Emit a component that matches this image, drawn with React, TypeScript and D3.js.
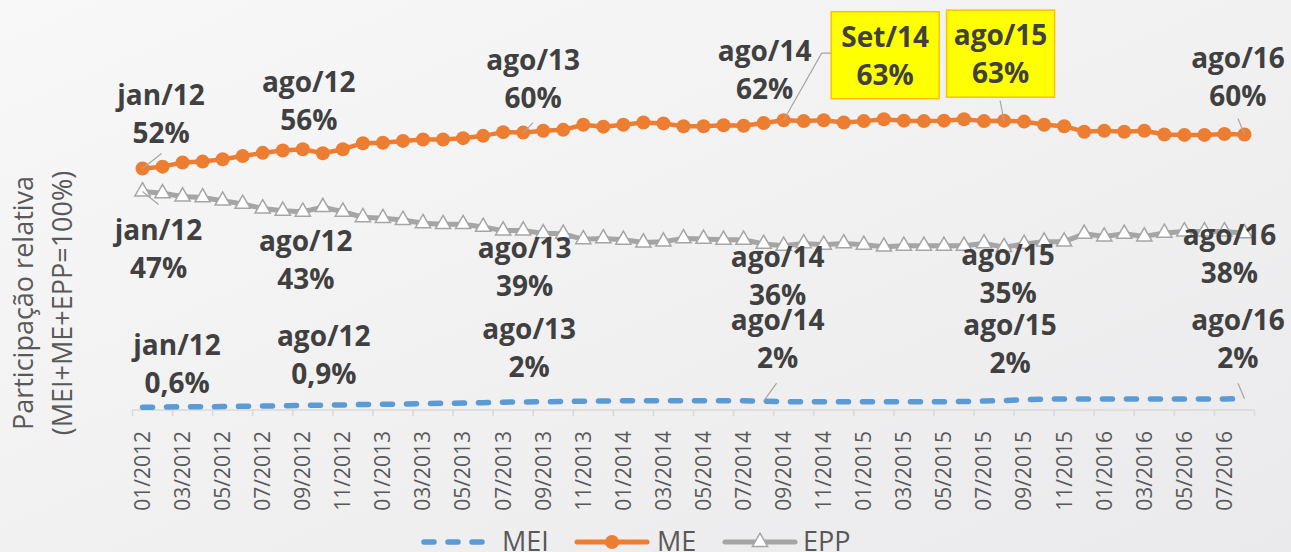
import React from 'react';
import * as d3 from 'd3';

// months on the category axis
const months = [
  '01/2012', '02/2012', '03/2012', '04/2012', '05/2012', '06/2012', '07/2012', '08/2012', '09/2012', '10/2012', '11/2012', '12/2012',
  '01/2013', '02/2013', '03/2013', '04/2013', '05/2013', '06/2013', '07/2013', '08/2013', '09/2013', '10/2013', '11/2013', '12/2013',
  '01/2014', '02/2014', '03/2014', '04/2014', '05/2014', '06/2014', '07/2014', '08/2014', '09/2014', '10/2014', '11/2014', '12/2014',
  '01/2015', '02/2015', '03/2015', '04/2015', '05/2015', '06/2015', '07/2015', '08/2015', '09/2015', '10/2015', '11/2015', '12/2015',
  '01/2016', '02/2016', '03/2016', '04/2016', '05/2016', '06/2016', '07/2016', '08/2016',
];

// participação relativa (%)
const meiValues = [
  0.6, 0.65, 0.7, 0.7, 0.75, 0.8, 0.85, 0.9, 1.0, 1.05, 1.1, 1.2,
  1.25, 1.3, 1.4, 1.45, 1.5, 1.6, 1.7, 1.75, 1.8, 1.85, 1.9, 1.95,
  2.0, 2.0, 2.0, 2.0, 2.0, 2.0, 2.0, 1.95, 1.8, 1.8, 1.8, 1.8,
  1.8, 1.8, 1.8, 1.8, 1.8, 1.85, 1.95, 2.05, 2.25, 2.35, 2.4, 2.4,
  2.4, 2.4, 2.4, 2.4, 2.4, 2.4, 2.4, 2.45,
];
const meValues = [
  52.5, 52.9, 53.8, 54.0, 54.5, 55.2, 55.9, 56.4, 56.7, 55.8, 56.7, 58.0,
  58.1, 58.5, 58.8, 58.8, 59.1, 59.6, 60.4, 60.3, 60.7, 60.9, 62.0, 61.6,
  62.0, 62.5, 62.3, 61.7, 61.7, 61.9, 61.8, 62.4, 63.0, 62.8, 63.0, 62.5,
  62.8, 63.2, 62.9, 62.8, 62.9, 63.2, 62.8, 62.9, 62.7, 62.0, 61.7, 60.5,
  60.7, 60.5, 60.7, 59.9, 59.8, 59.8, 60.0, 59.9,
];
const eppValues = [
  47.5, 47.1, 46.4, 46.2, 45.5, 44.8, 43.8, 43.3, 43.1, 44.1, 43.1, 41.9,
  41.7, 41.3, 40.6, 40.4, 40.4, 39.8, 39.0, 39.0, 38.4, 38.3, 37.1, 37.3,
  37.0, 36.4, 36.6, 37.3, 37.2, 37.0, 37.0, 36.1, 35.7, 36.2, 35.9, 36.2,
  35.9, 35.5, 35.7, 35.7, 35.7, 35.7, 36.2, 35.4, 36.1, 36.6, 36.6, 38.3,
  37.7, 38.3, 37.7, 38.5, 38.8, 38.8, 38.8, 38.4,
];

// data labels: [month index, first line, second line]
const meiLabels: [number, string, string][] = [
  [0, 'jan/12', '0,6%'], [7, 'ago/12', '0,9%'], [19, 'ago/13', '2%'],
  [31, 'ago/14', '2%'], [43, 'ago/15', '2%'], [55, 'ago/16', '2%'],
];
const meLabels: [number, string, string][] = [
  [0, 'jan/12', '52%'], [7, 'ago/12', '56%'], [19, 'ago/13', '60%'],
  [31, 'ago/14', '62%'], [32, 'Set/14', '63%'], [43, 'ago/15', '63%'], [55, 'ago/16', '60%'],
];
const eppLabels: [number, string, string][] = [
  [0, 'jan/12', '47%'], [7, 'ago/12', '43%'], [19, 'ago/13', '39%'],
  [31, 'ago/14', '36%'], [43, 'ago/15', '35%'], [55, 'ago/16', '38%'],
];
const highlighted = ['Set/14', 'ago/15'];

const seriesNames = ['MEI', 'ME', 'EPP'];

// where each label sits relative to its point (center x, first baseline), dragged by hand in the original
const meiOffsets = [[34.5, -52], [41, -60], [6, -63], [14, -71], [6, -66], [-6.5, -69]];
const meOffsets = [[18.5, -64], [26, -58.5], [10, -62.5], [1, -61.5], [101.5, -73.5], [-3.5, -75.5], [-6.5, -66.5]];
const eppOffsets = [[16, 48], [23, 40], [1.5, 27.5], [14, 23], [4, 18], [-15, 11.5]];

// leader lines: [label index, polyline offsets from the point]
const meiLeaders: [number, number[][]][] = [[3, [[13, -18]]], [5, [[-6.5, -15.5]]]];
const meLeaders: [number, number[][]][] = [
  [0, [[19, -15]]], [2, [[10, -10]]], [4, [[38, -67], [49, -67]]], [5, [[-4, -20]]], [6, [[-6.5, -16]]],
];
const eppLeaders: [number, number[][]][] = [[0, [[16, 13]]]];

const W = 1291;
const H = 552;
const colors = { MEI: '#5B9BD5', ME: '#ED7D31', EPP: '#A5A5A5' };
const font = '"Open Sans", "DejaVu Sans", sans-serif';

export default function App() {
  const x = d3.scaleBand().domain(months).range([132.5, 1254.5]);
  const cx = (i: number) => (x(months[i]) as number) + x.bandwidth() / 2;
  const y = d3.scaleLinear().domain([0, 65]).range([410, 410 - 65 * 4.6]);

  const line = d3.line<number>().x((d, i) => cx(i)).y(d => y(d));
  const tri = d3.symbol(d3.symbolTriangle, 100)();

  const tickIdx = months.map((m, i) => i).filter(i => i % 2 === 0);

  const series = [
    { name: 'MEI', values: meiValues, labels: meiLabels, offsets: meiOffsets, leaders: meiLeaders },
    { name: 'ME', values: meValues, labels: meLabels, offsets: meOffsets, leaders: meLeaders },
    { name: 'EPP', values: eppValues, labels: eppLabels, offsets: eppOffsets, leaders: eppLeaders },
  ];

  const legendX = { MEI: [422, 502], ME: [577, 657], EPP: [725, 803] };

  return (
    <div style={{ position: 'absolute', left: 0, top: 0 }}>
      <svg width={W} height={H} style={{ display: 'block' }} fontFamily={font}>
        <defs>
          <linearGradient id="bg" x1="0" y1="0" x2="1" y2="1">
            <stop offset="0" stopColor="#f8f8f8" />
            <stop offset="1" stopColor="#eaeaec" />
          </linearGradient>
        </defs>
        <rect width={W} height={H} fill="url(#bg)" />

        {/* category axis */}
        <line x1={132.5} x2={1254.5} y1={410} y2={410} stroke="#d9d9d9" strokeWidth={1.5} />
        {tickIdx.concat([months.length]).map(i => {
          const tx = i < months.length ? (x(months[i]) as number) : x.range()[1];
          return <line key={'t' + i} x1={tx} x2={tx} y1={410} y2={416} stroke="#d9d9d9" strokeWidth={1.5} />;
        })}
        {tickIdx.map(i => (
          <text key={'l' + i} transform={`translate(${cx(i)},431) rotate(-90)`} textAnchor="end" dy="0.35em"
            fontSize={21} fill="#595959">{months[i]}</text>
        ))}

        {/* y title */}
        <text transform="translate(33,303) rotate(-90)" textAnchor="middle" fontSize={27} fill="#595959">Participação relativa</text>
        <text transform="translate(71.5,303) rotate(-90)" textAnchor="middle" fontSize={27} fill="#595959">(MEI+ME+EPP=100%)</text>

        {/* series */}
        <path d={line(meiValues) as string} fill="none" stroke={colors.MEI} strokeWidth={5.5}
          strokeDasharray="10 14" strokeLinecap="round" />
        <path d={line(meValues) as string} fill="none" stroke={colors.ME} strokeWidth={4.5} strokeLinejoin="round" />
        {meValues.map((v, i) => <circle key={'c' + i} cx={cx(i)} cy={y(v)} r={7} fill={colors.ME} />)}
        <path d={line(eppValues) as string} fill="none" stroke={colors.EPP} strokeWidth={5} strokeLinejoin="round" />
        {eppValues.map((v, i) => (
          <path key={'p' + i} d={tri as string} transform={`translate(${cx(i)},${y(v)})`} fill="#fff"
            stroke={colors.EPP} strokeWidth={1.5} />
        ))}

        {/* leaders */}
        {series.map(s => s.leaders.map(([li, pts]) => {
          const idx = s.labels[li][0];
          const px = cx(idx);
          const py = y(s.values[idx]);
          const d = 'M' + [[0, 0]].concat(pts).map(p => `${px + p[0]},${py + p[1]}`).join('L');
          return <path key={s.name + 'ld' + li} d={d} fill="none" stroke="#a6a6a6" strokeWidth={1.2} />;
        }))}

        {/* data labels */}
        {series.map(s => s.labels.map(([idx, l1, l2], li) => {
          const lx = cx(idx) + s.offsets[li][0];
          const ly = y(s.values[idx]) + s.offsets[li][1];
          const boxed = s.name === 'ME' && highlighted.includes(l1);
          return (
            <g key={s.name + 'lb' + li}>
              {boxed && <rect x={lx - 54} y={ly - 35} width={108} height={87} fill="#ffff00" stroke="#ffc000" strokeWidth={1.5} />}
              <text x={lx} y={ly} textAnchor="middle" fontSize={28} fontWeight={700} fill="#404040">{l1}</text>
              <text x={lx} y={ly + 38} textAnchor="middle" fontSize={28} fontWeight={700} fill="#404040">{l2}</text>
            </g>
          );
        }))}

        {/* legend */}
        {seriesNames.map(n => {
          const [x0, tx] = legendX[n as keyof typeof legendX];
          const c = colors[n as keyof typeof colors];
          const x1 = x0 + 68;
          return (
            <g key={'lg' + n}>
              {n === 'MEI'
                ? <line x1={x0 + 2} x2={x1 - 2} y1={542} y2={542} stroke={c} strokeWidth={5.5} strokeDasharray="10 14" strokeLinecap="round" />
                : <line x1={x0} x2={x1 + 2} y1={542} y2={542} stroke={c} strokeWidth={5} strokeLinecap="round" />}
              {n === 'ME' && <circle cx={(x0 + x1) / 2 + 1} cy={542} r={7} fill={c} />}
              {n === 'EPP' && <path d={tri as string} transform={`translate(${(x0 + x1) / 2 + 1},542)`} fill="#fff" stroke={c} strokeWidth={1.5} />}
              <text x={tx} y={551} fontSize={27} fill="#595959">{n}</text>
            </g>
          );
        })}
      </svg>
    </div>
  );
}
